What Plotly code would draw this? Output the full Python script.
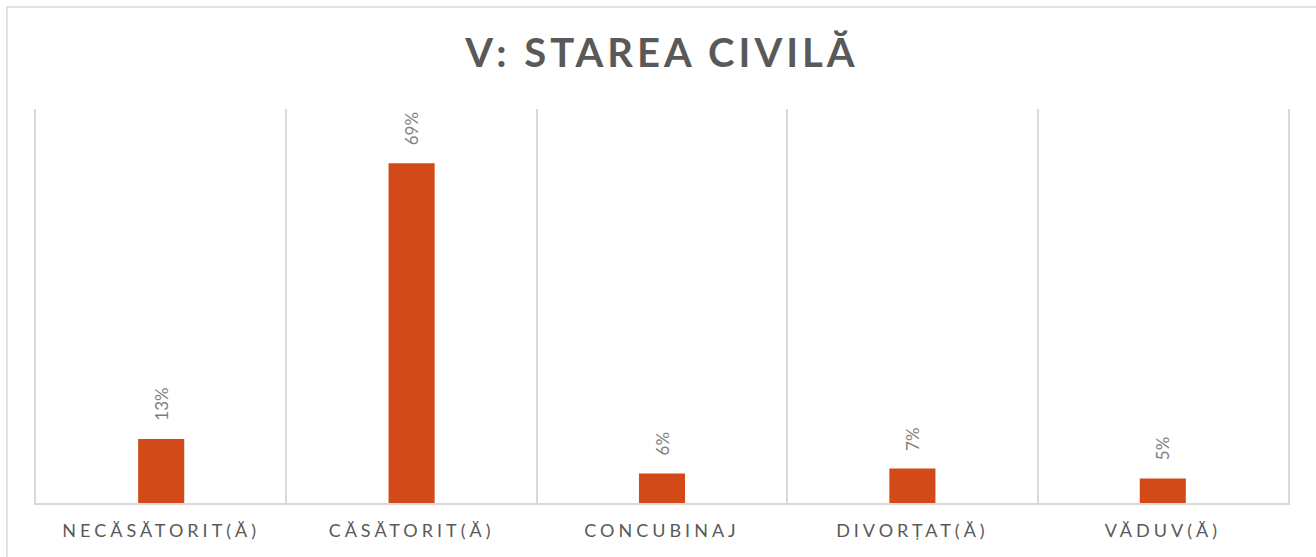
import plotly.graph_objects as go

categories = ["NECĂSĂTORIT(Ă)", "CĂSĂTORIT(Ă)", "CONCUBINAJ", "DIVORȚAT(Ă)", "VĂDUV(Ă)"]
values = [0.13, 0.69, 0.06, 0.07, 0.05]
labels = ["13%", "69%", "6%", "7%", "5%"]
title_text = "V: STAREA CIVILĂ"

BAR_COLOR = "#D24A18"
GRID = "#D9D9D9"
TEXT = "#595959"

fig = go.Figure()
fig.add_trace(go.Bar(
    x=categories, y=values, width=0.184,
    marker=dict(color=BAR_COLOR, line=dict(width=0)),
    hoverinfo="skip",
))

for c, v, t in zip(categories, values, labels):
    fig.add_annotation(
        x=c, y=v, text=t, textangle=-90, showarrow=False,
        xanchor="center", yanchor="bottom", yshift=16,
        font=dict(family="Lato", size=17, color="#7F7F7F"),
    )

fig.add_shape(
    type="rect", xref="paper", yref="paper",
    x0=-0.0232, x1=1.03, y0=-0.16, y1=1.2589,
    line=dict(color=GRID, width=1.5), fillcolor="rgba(0,0,0,0)", layer="below",
)

fig.update_layout(
    width=1316, height=557,
    margin=dict(l=36, r=28, t=109, b=54),
    paper_bgcolor="white", plot_bgcolor="white",
    showlegend=False,
    title=dict(
        text=title_text, x=0.5, xref="paper", y=1 - 53 / 557, yref="container",
        xanchor="center", yanchor="middle",
        font=dict(family="Lato", size=40, color=TEXT, weight="bold"),
    ),
    xaxis=dict(
        tickson="boundaries", showgrid=True, gridcolor=GRID, gridwidth=1.5,
        ticks="", showline=True, linecolor=GRID, linewidth=2,
        tickfont=dict(family="Lato", size=18, color=TEXT),
        ticklabelstandoff=10,
        range=[-0.5, 4.5], fixedrange=True,
    ),
    yaxis=dict(
        range=[0, 0.8], showgrid=False, zeroline=False, showticklabels=False,
        ticks="", showline=True, mirror=True, linecolor=GRID, linewidth=1.5,
        fixedrange=True,
    ),
)

post = """
document.body.style.margin = '0';
document.body.style.overflow = 'hidden';
var gd = document.getElementById('{plot_id}');
function ls(){
  gd.querySelectorAll('.gtitle').forEach(function(e){ e.style.letterSpacing='4px'; });
  gd.querySelectorAll('.xtick text').forEach(function(e){ e.style.letterSpacing='4px'; });
}
ls();
if (gd.on) { gd.on('plotly_afterplot', ls); }
"""

fig.write_html("out.html", post_script=post, config={"displayModeBar": False})
